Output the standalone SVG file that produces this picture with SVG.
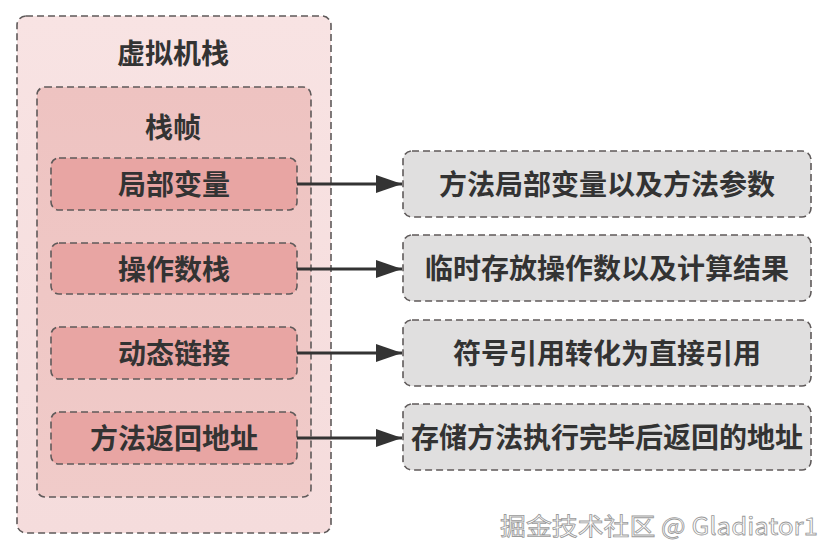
<svg xmlns="http://www.w3.org/2000/svg" width="829" height="557" viewBox="0 0 829 557">
<style>
.box{stroke:#5f5a5a;stroke-width:1.6;stroke-dasharray:7 4}
.t{font-family:"Noto Sans CJK SC","Noto Sans",sans-serif;font-weight:bold;font-size:28px;fill:#333;text-anchor:middle;dominant-baseline:central}
.c{stroke:#333;stroke-width:3;fill:none}
</style>
<defs>
<linearGradient id="g1" x1="0" y1="0" x2="0" y2="1"><stop offset="0" stop-color="#f8e3e3"/><stop offset="1" stop-color="#f5dcdc"/></linearGradient>
<linearGradient id="g2" x1="0" y1="0" x2="0" y2="1"><stop offset="0" stop-color="#eec3c1"/><stop offset="1" stop-color="#f0cbc9"/></linearGradient>
<marker id="a" viewBox="0 0 26 18" refX="26" refY="9" markerWidth="26" markerHeight="18" markerUnits="userSpaceOnUse" orient="auto"><path d="M0,0 L26,9 L0,18 Z" fill="#333"/></marker>
</defs>
<g id="vmstack"><rect class="box" x="17" y="16" width="314" height="517" rx="9" fill="url(#g1)"/><text class="t" x="173" y="52">虚拟机栈</text></g>
<g id="frame"><rect class="box" x="37" y="87" width="274" height="410" rx="8" fill="url(#g2)"/><text class="t" x="173" y="126">栈帧</text></g>
<g id="n1"><rect class="box" x="51" y="158" width="246" height="52" rx="8" fill="#e8a5a3"/><text class="t" x="174" y="183">局部变量</text></g>
<g id="n2"><rect class="box" x="51" y="243" width="246" height="51" rx="8" fill="#e8a5a3"/><text class="t" x="174" y="268">操作数栈</text></g>
<g id="n3"><rect class="box" x="51" y="327" width="246" height="52" rx="8" fill="#e8a5a3"/><text class="t" x="174" y="352">动态链接</text></g>
<g id="n4"><rect class="box" x="51" y="412" width="246" height="52" rx="8" fill="#e8a5a3"/><text class="t" x="174" y="437">方法返回地址</text></g>
<g id="r1"><rect class="box" x="403" y="151" width="408" height="66" rx="9" fill="#e0dfdf"/><text class="t" x="607" y="183">方法局部变量以及方法参数</text></g>
<g id="r2"><rect class="box" x="403" y="235" width="408" height="66" rx="9" fill="#e0dfdf"/><text class="t" x="607" y="267">临时存放操作数以及计算结果</text></g>
<g id="r3"><rect class="box" x="403" y="320" width="408" height="66" rx="9" fill="#e0dfdf"/><text class="t" x="607" y="352">符号引用转化为直接引用</text></g>
<g id="r4"><rect class="box" x="403" y="404" width="408" height="66" rx="9" fill="#e0dfdf"/><text class="t" x="607" y="436">存储方法执行完毕后返回的地址</text></g>
<g id="connectors">
<line class="c" x1="297" y1="184" x2="402" y2="184" marker-end="url(#a)"/>
<line class="c" x1="297" y1="269" x2="402" y2="269" marker-end="url(#a)"/>
<line class="c" x1="297" y1="353" x2="402" y2="353" marker-end="url(#a)"/>
<line class="c" x1="297" y1="438" x2="402" y2="438" marker-end="url(#a)"/>
</g>
<text x="500" y="524" textLength="318" lengthAdjust="spacingAndGlyphs" font-family="Noto Sans CJK SC,sans-serif" font-size="24" fill="#fff" stroke="#9a9a9a" stroke-width="0.8" dominant-baseline="central">掘金技术社区 @ Gladiator1</text>
</svg>
